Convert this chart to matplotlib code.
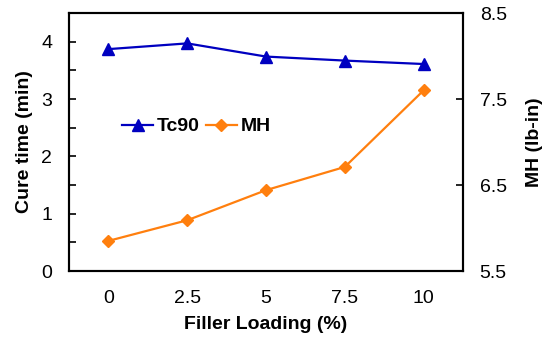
import matplotlib.pyplot as plt
import numpy as np

plt.rcParams['font.family'] = ['Liberation Sans', 'DejaVu Sans']

# data
loading = ['0', '2.5', '5', '7.5', '10']
tc90 = [3.87, 3.97, 3.74, 3.67, 3.61]
mh = [5.85, 6.09, 6.44, 6.71, 7.60]

blue = '#0000C0'
orange = '#FF7F0E'

fig = plt.figure(figsize=(5.5, 3.4), dpi=100)
ax = fig.add_axes([69/550, 1 - 271/340, (463-69)/550, (271-13)/340])
ax2 = ax.twinx()

x = np.arange(len(loading))
l1, = ax.plot(x, tc90, color=blue, marker='^', markersize=9, lw=1.6, label='Tc90')
l2, = ax2.plot(x, mh, color=orange, marker='D', markersize=6.5, lw=1.6, label='MH')

ax.set_xlim(-0.5, 4.5)
ax.set_xticks(x)
ax.set_xticklabels(loading)
ax.tick_params(axis='x', length=0, labelsize=14, pad=14)

ax.set_ylim(0, 4.5)
ax.set_yticks([0, 1, 2, 3, 4])
ax.set_yticks(np.arange(0.5, 4.5, 1), minor=True)
ax.tick_params(axis='y', which='both', direction='in', length=5, width=1.2, labelsize=14, pad=12)

ax2.set_ylim(5.5, 8.5)
ax2.set_yticks([5.5, 6.5, 7.5, 8.5])
ax2.tick_params(axis='y', direction='in', length=5, width=1.2, labelsize=14, pad=12)

for a in (ax, ax2):
    for s in a.spines.values():
        s.set_linewidth(1.5)

ax.set_xlabel('Filler Loading (%)', fontsize=14, fontweight='bold', labelpad=6)
ax.set_ylabel('Cure time (min)', fontsize=14, fontweight='bold', labelpad=6)
ax2.set_ylabel('MH (lb-in)', fontsize=14, fontweight='bold', labelpad=14)

leg = ax.legend([l1, l2], ['Tc90', 'MH'], loc='center left', bbox_to_anchor=(0.09, 0.56),
                ncol=2, frameon=False, handlelength=1.6, handletextpad=0.2, columnspacing=0.3,
                prop={'weight': 'bold', 'size': 14})

fig.savefig('out.png', dpi=100)
